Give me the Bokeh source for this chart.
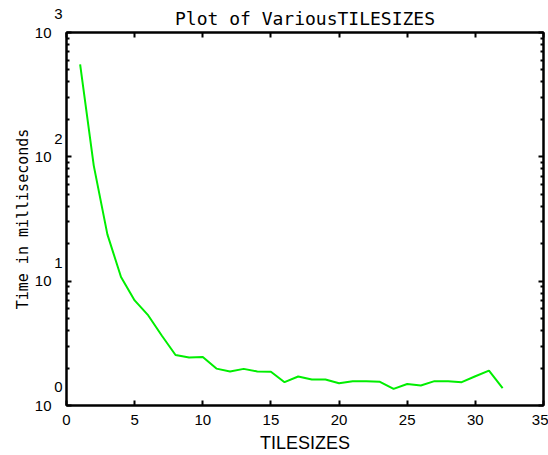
from bokeh.plotting import figure
from bokeh.models import (LinearAxis, LogAxis, FixedTicker, Range1d)
from bokeh.embed import file_html
from bokeh.resources import INLINE

# ---- data ----
tile_sizes = [1, 2, 3, 4, 5, 6, 7, 8, 9, 10, 11, 12, 13, 14, 15, 16,
              17, 18, 19, 20, 21, 22, 23, 24, 25, 26, 27, 28, 29, 30, 31, 32]
times_ms = [553, 85, 23.8, 10.8, 7.0, 5.3, 3.64, 2.55, 2.43, 2.46, 1.98, 1.88,
            1.97, 1.88, 1.87, 1.54, 1.71, 1.62, 1.62, 1.51, 1.57, 1.57, 1.55, 1.36,
            1.49, 1.45, 1.57, 1.57, 1.54, 1.72, 1.91, 1.38]
x_ticks = [0, 5, 10, 15, 20, 25, 30, 35]
y_decades = [1, 10, 100, 1000]
y_exponents = ["0", "1", "2", "3"]
title_text = "Plot of VariousTILESIZES"
x_label = "TILESIZES"
y_label = "Time in milliseconds"

LAB_FONT = "Liberation Sans"
MONO_FONT = "DejaVu Sans Mono"

y_minor = [d * m for d in y_decades[:-1] for m in range(2, 10)]

p = figure(width=548, height=455, x_range=Range1d(0, 35), y_range=Range1d(1, 1000),
           y_axis_type="log", y_axis_location=None,
           output_backend="svg", toolbar_location=None,
           min_border_left=66, min_border_right=5, min_border_top=32,
           min_border_bottom=49, title=title_text)

p.background_fill_color = "white"
p.border_fill_color = "white"
p.grid.visible = False
p.outline_line_color = "black"
p.outline_line_width = 2

p.title.align = "center"
p.title.text_font = MONO_FONT
p.title.text_font_size = "18px"
p.title.text_font_style = "normal"
p.title.text_color = "black"
p.title.standoff = 8

xt = FixedTicker(ticks=x_ticks)
yt = FixedTicker(ticks=y_decades, minor_ticks=y_minor)

# bottom axis
xa = p.xaxis[0]
xa.ticker = xt
xa.axis_line_width = 2
xa.major_tick_in = 5
xa.major_tick_out = 0
xa.major_tick_line_width = 2
xa.minor_tick_line_color = None
xa.major_label_text_font = LAB_FONT
xa.major_label_text_font_size = "15px"
xa.major_label_text_color = "black"
xa.major_label_standoff = 9
xa.axis_label = x_label
xa.axis_label_text_font = LAB_FONT
xa.axis_label_text_font_size = "18px"
xa.axis_label_text_font_style = "normal"
xa.axis_label_text_color = "black"
xa.axis_label_standoff = 5

# left: inner axis carries the ticks and the exponents of the labels
ea = LogAxis(ticker=yt, major_label_overrides={d: e + "\n\n" for d, e in zip(y_decades, y_exponents)})
ea.axis_line_width = 2
ea.major_tick_in = 5
ea.major_tick_out = 0
ea.major_tick_line_width = 2
ea.minor_tick_in = 3
ea.minor_tick_out = 0
ea.minor_tick_line_width = 2
ea.major_label_text_font = LAB_FONT
ea.major_label_text_font_size = "15px"
ea.major_label_text_color = "black"
ea.major_label_text_line_height = 1.1
ea.major_label_standoff = 4
p.add_layout(ea, "left")

# left: outer axis carries the "10" bases and the axis title
ya = LogAxis(ticker=FixedTicker(ticks=y_decades), major_label_overrides={d: "10" for d in y_decades})
ya.axis_line_color = None
ya.major_tick_line_color = None
ya.minor_tick_line_color = None
ya.major_tick_in = 0
ya.major_tick_out = 0
ya.minor_tick_in = 0
ya.minor_tick_out = 0
ya.major_label_standoff = 0
ya.major_label_text_font = LAB_FONT
ya.major_label_text_font_size = "15px"
ya.major_label_text_color = "black"
ya.axis_label = y_label
ya.axis_label_text_font = MONO_FONT
ya.axis_label_text_font_size = "15px"
ya.axis_label_text_font_style = "normal"
ya.axis_label_text_color = "black"
ya.axis_label_standoff = 0
p.add_layout(ya, "left")

# mirrored axes (ticks only)
ta = LinearAxis(ticker=xt, major_label_overrides={t: "" for t in x_ticks})
ta.axis_line_width = 2
ta.major_tick_in = 5
ta.major_tick_out = 0
ta.major_tick_line_width = 2
ta.minor_tick_line_color = None
ta.major_label_standoff = 0
p.add_layout(ta, "above")

ra = LogAxis(ticker=yt, major_label_overrides={d: "" for d in y_decades})
ra.axis_line_width = 2
ra.major_tick_in = 5
ra.major_tick_out = 0
ra.major_tick_line_width = 2
ra.minor_tick_in = 3
ra.minor_tick_out = 0
ra.minor_tick_line_width = 2
ra.major_label_standoff = 0
p.add_layout(ra, "right")

p.line(tile_sizes, times_ms, line_color="#00ee00", line_width=2)

open("out.html", "w").write(file_html(p, INLINE))
